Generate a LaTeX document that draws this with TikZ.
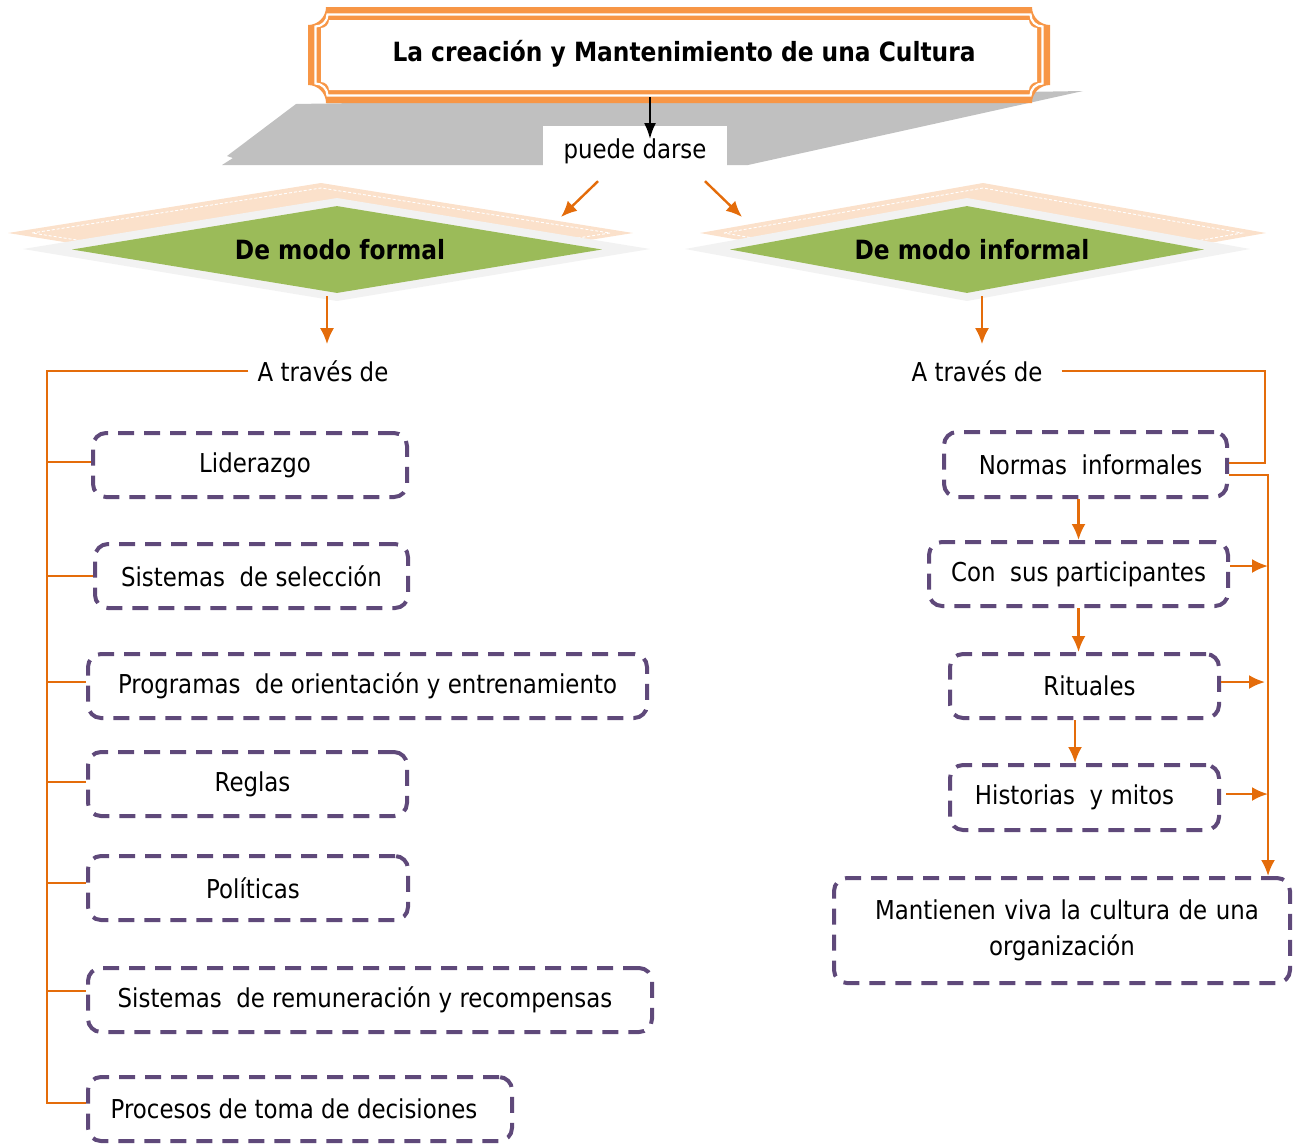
\documentclass[tikz,border=0pt]{standalone}
\usepackage{fontspec}
\setmainfont{DejaVu Sans}[FakeStretch=0.88]
\usetikzlibrary{arrows.meta,shapes.geometric,calc}
\definecolor{orng}{HTML}{E46C0A}
\definecolor{frameor}{HTML}{F79646}
\definecolor{purp}{HTML}{5F497A}
\definecolor{grn}{HTML}{9BBB59}
\definecolor{peach}{RGB}{251,225,203}
\definecolor{ltgray}{HTML}{F2F2F2}
\definecolor{shgray}{HTML}{C0C0C0}
\newcommand\concrect[5]{(#1+#5,#2) -- (#3-#5,#2) .. controls (#3-#5,#2+0.552*#5) and (#3-0.552*#5,#2+#5) .. (#3,#2+#5) -- (#3,#4-#5) .. controls (#3-0.552*#5,#4-#5) and (#3-#5,#4-0.552*#5) .. (#3-#5,#4) -- (#1+#5,#4) .. controls (#1+#5,#4-0.552*#5) and (#1+0.552*#5,#4-#5) .. (#1,#4-#5) -- (#1,#2+#5) .. controls (#1+0.552*#5,#2+#5) and (#1+#5,#2+0.552*#5) .. (#1+#5,#2) -- cycle}
\tikzset{
  dbox/.style={draw=purp, line width=4pt, dash pattern=on 16pt off 10pt, rounded corners=13pt, rectangle, inner sep=0pt, align=center},
  oline/.style={draw=orng, line width=2pt},
  oarr/.style={draw=orng, line width=2.4pt, -{Latex[length=16pt,width=14pt]}},
  dmd/.style={diamond, aspect=6, fill=grn, inner sep=0pt, font=\bfseries\fontsize{26.5}{31}\selectfont},
  lbl/.style={inner sep=0pt}
}
\begin{document}
\begin{tikzpicture}[x=1pt,y=-1pt,font=\fontsize{26}{31}\selectfont]
\useasboundingbox (0,0) rectangle (1304,1144);
% shadow
\fill[shgray] (222,165) -- (233,158) -- (227,156) -- (296,104) -- (1083,91) -- (748,165) -- cycle;
% title frame
\fill[frameor] \concrect{308}{7}{1050}{103}{18};
\draw[white, line width=2.2pt] \concrect{315.5}{14.5}{1042.5}{95.5}{12};
\fill[white] \concrect{321}{20}{1037}{90}{8};
\node[lbl, font=\bfseries\fontsize{26.5}{31}\selectfont] (title) at (684,54) {La creación y Mantenimiento de una Cultura};
\coordinate (tb) at (650,97);
% puede darse
\node[fill=white, minimum width=184pt, minimum height=50pt, inner sep=0pt] (puede) at (635,151) {puede darse};
\draw[line width=2pt, -{Latex[length=16pt,width=12pt]}] (tb) -- (tb |- 0,139);
% left diamond
\fill[peach] (8,233) -- (321,183) -- (633,233) -- (321,283) -- cycle;
\draw[white, line width=0.9pt, dash pattern=on 3pt off 2pt] (32,233) -- (321,188) -- (610,233) -- (321,278) -- cycle;
\fill[ltgray] (23,249) -- (337,198) -- (650,249) -- (337,301) -- cycle;
\node[dmd, minimum width=530pt, minimum height=87pt] (formal) at (337,249.5) {\hspace*{6pt}De modo formal};
% right diamond
\fill[peach] (700,233) -- (983,183) -- (1266,233) -- (983,283) -- cycle;
\draw[white, line width=0.9pt, dash pattern=on 3pt off 2pt] (724,233) -- (983,188) -- (1242,233) -- (983,278) -- cycle;
\fill[ltgray] (685,249) -- (967,198) -- (1250,249) -- (967,301) -- cycle;
\node[dmd, minimum width=474pt, minimum height=87pt] (informal) at (967,249.5) {\hspace*{10pt}De modo informal};
% arrows from puede darse
\coordinate (a1e) at (561,217);
\coordinate (a2e) at (742,217);
\draw[oarr] ([xshift=-37pt,yshift=-5pt]puede.south) -- (a1e);
\draw[oarr] ([xshift=70pt,yshift=-5pt]puede.south) -- (a2e);
% A traves de
\node[lbl, inner xsep=9pt] (ltrav) at (323,371) {A través de};
\node[lbl, inner xsep=19pt] (rtrav) at (977,371) {A través de};
\draw[oarr] ([xshift=-10pt,yshift=-3pt]formal.south) -- ([xshift=4pt,yshift=16pt]ltrav.north);
\draw[oarr] ([xshift=15pt,yshift=-3pt]informal.south) -- ([xshift=5pt,yshift=16pt]rtrav.north);
% left boxes
\node[dbox, minimum width=314pt, minimum height=64pt] (b1) at (250,465) {\hspace*{10pt}Liderazgo};
\node[dbox, minimum width=313pt, minimum height=64pt] (b2) at (251.5,576) {Sistemas\ \ de selección};
\node[dbox, minimum width=559pt, minimum height=64pt] (b3) at (367.5,686) {Programas\ \ de orientación y entrenamiento};
\node[dbox, minimum width=319pt, minimum height=64pt] (b4) at (247.5,784) {\hspace*{10pt}Reglas};
\node[dbox, minimum width=320pt, minimum height=64pt] (b5) at (248,888) {\hspace*{10pt}Políticas};
\node[dbox, minimum width=564pt, minimum height=64pt] (b6) at (370,1000) {Sistemas\ \ de remuneración y recompensas\hspace*{10pt}};
\node[dbox, minimum width=424pt, minimum height=64pt] (b7) at (300,1109) {\hspace*{8pt}Procesos de toma de decisiones\hspace*{20pt}};
\coordinate (sT) at (47,371);
\draw[oline] (ltrav.west) -- (sT) |- ([yshift=6pt]b7.west);
\foreach \b/\s in {b1/3,b2/0,b3/4,b4/2,b5/5,b6/9} {
  \path ([yshift=\s pt]\b.west) coordinate (tk);
  \draw[oline] (sT |- tk) -- (tk);
}
% right boxes
\node[dbox, minimum width=283pt, minimum height=65pt] (normas) at (1085.5,464.5) {\hspace*{10pt}Normas\ \ informales};
\node[dbox, minimum width=299pt, minimum height=64pt] (con) at (1078.5,574) {Con\ \ sus participantes};
\node[dbox, minimum width=269pt, minimum height=64pt] (rit) at (1084.5,686) {\hspace*{10pt}Rituales};
\node[dbox, minimum width=269pt, minimum height=65pt] (hist) at (1084.5,797.5) {Historias\ \ y mitos\hspace*{20pt}};
\node[dbox, minimum width=456pt, minimum height=105pt, text width=440pt] (mant) at (1062,930.5) {\hspace*{10pt}Mantienen viva la cultura de una\\[5pt]organización};
\coordinate (rc1) at (1265,371);
\coordinate (rc2) at (1268,475);
\draw[oline] (rtrav.east) -- (rc1) |- ([yshift=2pt]normas.east);
\draw[oarr] ([yshift=-10.5pt]normas.east) -- (rc2) -- (rc2 |- mant.north);
\draw[oarr] (normas.south -| con.north) -- (con.north);
\draw[oarr] (con.south) -- (con.south |- rit.north);
\draw[oarr] ([xshift=-9.5pt]rit.south) -- ([xshift=-9.5pt]hist.north);
\draw[oarr] ([yshift=8pt]con.east) -- ([yshift=8pt]con.east -| rc2);
\draw[oarr] ([yshift=4pt]rit.east) -- ([yshift=4pt]rit.east -| rc1);
\draw[oarr] ([yshift=3.5pt,xshift=5pt]hist.east) -- ([yshift=3.5pt]hist.east -| rc2);
\end{tikzpicture}
\end{document}
